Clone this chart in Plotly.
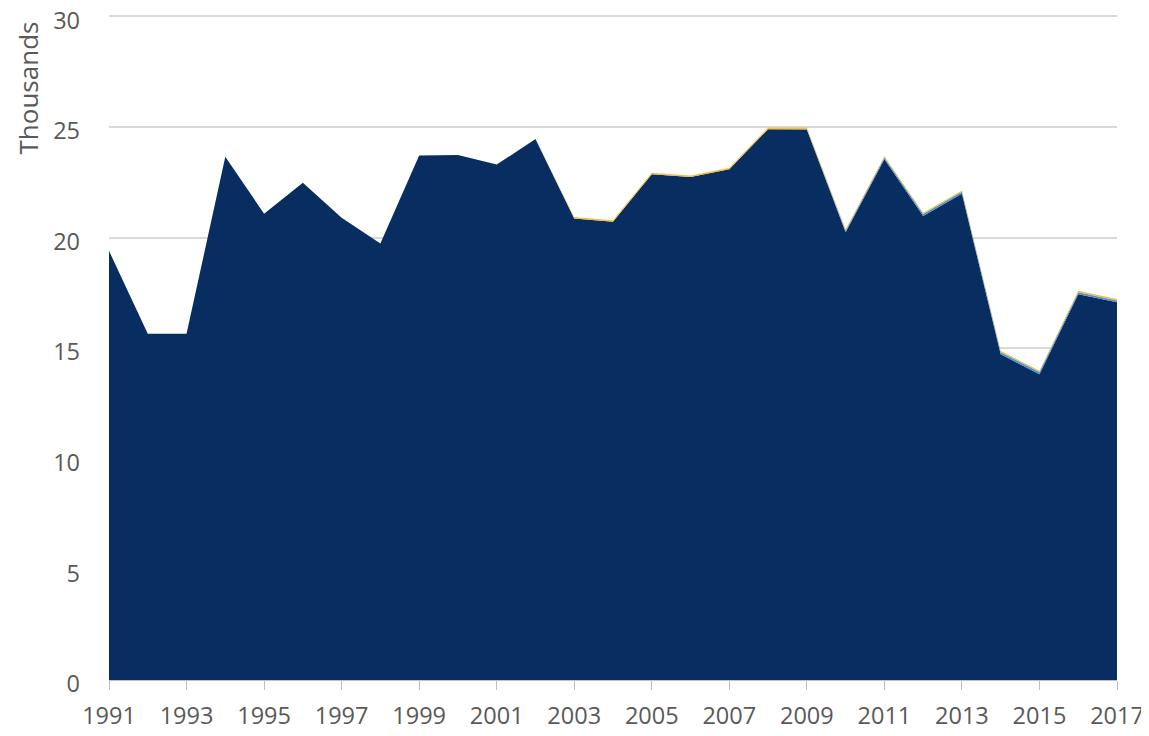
import plotly.graph_objects as go

years = list(range(1991, 2018))
total = [19.4, 15.65, 15.65, 23.65, 21.08, 22.48, 20.9, 19.73, 23.71, 23.73,
         23.3, 24.46, 20.93, 20.78, 22.93, 22.81, 23.16, 24.97, 24.97, 20.37,
         23.68, 21.12, 22.13, 14.88, 13.98, 17.59, 17.22]
blue = [0, 0, 0, 0, 0, 0, 0, 0, 0, 0,
        0, 0, 0, 0, 0, 0, 0, 0, 0.02, 0.07,
        0.08, 0.09, 0.09, 0.1, 0.1, 0.09, 0.09]
orange = [0, 0, 0, 0, 0, 0, 0, 0, 0, 0,
          0, 0.01, 0.07, 0.07, 0.07, 0.07, 0.07, 0.07, 0.07, 0.06,
          0.06, 0.06, 0.06, 0.06, 0.06, 0.06, 0.06]
navy = [round(t - b - o, 3) for t, b, o in zip(total, blue, orange)]

fig = go.Figure()
fig.add_trace(go.Scatter(x=years, y=navy, stackgroup="one", mode="lines",
                         line=dict(width=0, color="#072D61"), fillcolor="#072D61",
                         name="Series 1"))
fig.add_trace(go.Scatter(x=years, y=blue, stackgroup="one", mode="lines",
                         line=dict(width=0, color="#4F8FD6"), fillcolor="#4F8FD6",
                         name="Series 2"))
fig.add_trace(go.Scatter(x=years, y=orange, stackgroup="one", mode="lines",
                         line=dict(width=0, color="#F4BE3E"), fillcolor="#F4BE3E",
                         name="Series 3"))

font_fam = "Open Sans, Lato, sans-serif"
fig.update_layout(
    width=1141, height=728,
    margin=dict(l=101, r=32, t=7, b=56, autoexpand=False),
    plot_bgcolor="white", paper_bgcolor="white",
    showlegend=False,
    font=dict(family=font_fam, color="#595959", size=23),
    xaxis=dict(
        range=[1991, 2017], tickmode="array",
        tickvals=list(range(1991, 2018, 2)),
        ticktext=[str(y) for y in range(1991, 2018, 2)],
        showgrid=False, showline=True, linecolor="#BFBFBF", linewidth=1,
        ticks="outside", ticklen=9, tickcolor="#BFBFBF", tickwidth=1,
        tickfont=dict(size=23.5), ticklabelstandoff=6, zeroline=False,
        automargin=False,
    ),
    yaxis=dict(
        range=[0, 30.06], tickmode="array", tickvals=[0, 5, 10, 15, 20, 25, 30],
        showgrid=True, gridcolor="#D9D9D9", gridwidth=1.5,
        showline=False, zeroline=False, ticks="",
        tickfont=dict(size=23.5), ticklabelstandoff=28,
        ticklabelshift=4, ticklabeloverflow="allow",
        automargin=False,
    ),
    annotations=[dict(
        text="Thousands", textangle=-90, xref="paper", yref="paper",
        x=0, xshift=-82, xanchor="center", y=1, yshift=-5, yanchor="top",
        showarrow=False, font=dict(size=26, color="#595959", family=font_fam),
    )],
)

fig.write_html("out.html")
